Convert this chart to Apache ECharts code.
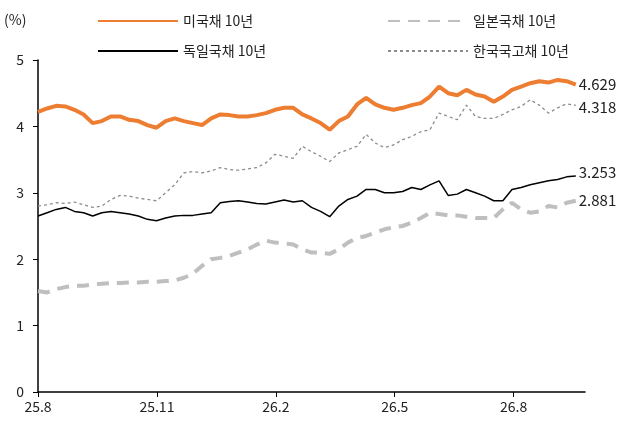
<!DOCTYPE html>
<html><head><meta charset="utf-8">
<script src="https://cdn.jsdelivr.net/npm/echarts@6/dist/echarts.min.js"></script>
<style>html,body{margin:0;padding:0;background:#fff}#c{width:643px;height:435px}</style>
</head><body><div id="c"></div>
<script>
const seriesNames = ['미국채 10년','일본국채 10년','독일국채 10년','한국국고채 10년'];
const xTickLabels = ['25.8','25.11','26.2','26.5','26.8'];
const us = [4.22,4.27,4.31,4.30,4.25,4.18,4.05,4.08,4.15,4.15,4.10,4.08,4.02,3.98,4.08,4.12,4.08,4.05,4.02,4.12,4.18,4.17,4.15,4.15,4.17,4.20,4.25,4.28,4.28,4.18,4.12,4.05,3.95,4.08,4.15,4.33,4.43,4.33,4.28,4.25,4.28,4.32,4.35,4.45,4.60,4.50,4.47,4.55,4.48,4.45,4.37,4.45,4.55,4.60,4.65,4.68,4.66,4.70,4.68,4.629];
const jp = [1.52,1.50,1.55,1.58,1.60,1.60,1.62,1.63,1.64,1.64,1.65,1.65,1.66,1.66,1.67,1.68,1.72,1.78,1.90,2.00,2.02,2.05,2.10,2.15,2.22,2.28,2.25,2.24,2.22,2.15,2.10,2.10,2.08,2.15,2.25,2.32,2.35,2.40,2.45,2.48,2.50,2.55,2.62,2.70,2.68,2.66,2.66,2.64,2.62,2.62,2.62,2.75,2.85,2.75,2.70,2.72,2.80,2.78,2.85,2.881];
const de = [2.65,2.70,2.75,2.78,2.72,2.70,2.65,2.70,2.72,2.70,2.68,2.65,2.60,2.58,2.62,2.65,2.66,2.66,2.68,2.70,2.85,2.87,2.88,2.86,2.84,2.83,2.86,2.89,2.86,2.88,2.78,2.72,2.64,2.80,2.90,2.95,3.05,3.05,3.00,3.00,3.02,3.08,3.05,3.12,3.18,2.96,2.98,3.05,3.00,2.95,2.88,2.88,3.05,3.08,3.12,3.15,3.18,3.20,3.24,3.253];
const kr = [2.80,2.82,2.85,2.84,2.86,2.82,2.78,2.80,2.90,2.96,2.95,2.92,2.90,2.88,3.00,3.12,3.30,3.32,3.30,3.33,3.38,3.35,3.34,3.36,3.38,3.45,3.58,3.55,3.52,3.70,3.62,3.55,3.47,3.60,3.65,3.70,3.88,3.75,3.68,3.72,3.80,3.85,3.92,3.95,4.20,4.15,4.10,4.32,4.15,4.12,4.12,4.18,4.25,4.30,4.40,4.32,4.20,4.28,4.34,4.318];
const monthsPerWeek = 7/30.44;
const toPts = a => a.map((v,i)=>[i*monthsPerWeek, v]);
const font = '"Noto Sans CJK KR","Noto Sans",sans-serif';
const chart = echarts.init(document.getElementById('c'));
const mk = (name, data, color, width, type, labelOffsetY) => ({
  name, type:'line', data:toPts(data), showSymbol:false, symbol:'none',
  lineStyle:{color, width, type}, itemStyle:{color},
  endLabel:{show:true, formatter:p=>p.value[1].toFixed(3), color:'#222', fontSize:15, fontFamily:font, offset:[0,labelOffsetY], distance:3}
});
const legendBase = {itemWidth:80, itemHeight:12, itemStyle:{opacity:0}, textStyle:{fontSize:14, color:'#222', fontFamily:font}};
chart.setOption({
  animation:false,
  textStyle:{fontFamily:font},
  legend:[
    Object.assign({data:[seriesNames[0]], left:92, top:9}, legendBase),
    Object.assign({data:[seriesNames[1]], left:382, top:9}, legendBase),
    Object.assign({data:[seriesNames[2]], left:92, top:39}, legendBase),
    Object.assign({data:[seriesNames[3]], left:382, top:39}, legendBase)
  ],
  grid:{left:38, right:58, top:60, bottom:43},
  graphic:[{type:'text', left:4, top:13, style:{text:'(%)', fontSize:14, fill:'#222', fontFamily:font}}],
  xAxis:{type:'value', min:0, max:13.8, interval:3,
    axisLine:{lineStyle:{color:'#000', width:1.5}}, axisTick:{show:true, length:5, lineStyle:{color:'#000'}},
    splitLine:{show:false},
    axisLabel:{fontSize:14, color:'#222', fontFamily:font, showMaxLabel:false, formatter:v=>xTickLabels[Math.round(v/3)]||''}},
  yAxis:{type:'value', min:0, max:5, interval:1,
    axisLine:{show:true, lineStyle:{color:'#000', width:1.5}}, axisTick:{show:true, length:5, lineStyle:{color:'#000'}},
    splitLine:{show:false}, axisLabel:{fontSize:14, color:'#222', fontFamily:font, margin:14}},
  series:[
    mk(seriesNames[0], us, '#ED7D31', 4, 'solid', 0),
    mk(seriesNames[1], jp, '#BFBFBF', 4, [12,8], 0),
    mk(seriesNames[2], de, '#000000', 1.5, 'solid', -4),
    mk(seriesNames[3], kr, '#8C8C8C', 1.3, [3,3], 2)
  ]
});
</script></body></html>
